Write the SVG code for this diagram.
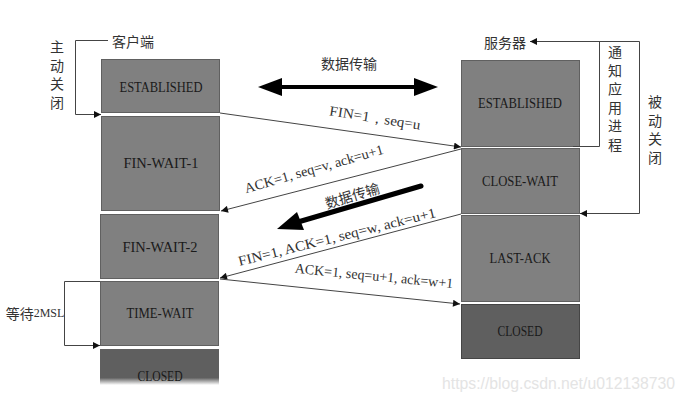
<svg xmlns="http://www.w3.org/2000/svg" width="684" height="402" viewBox="0 0 684 402">
<defs>
<style>
.box{fill:#808080;stroke:#606060;stroke-width:1}
.dark{fill:#5f5f5f;stroke:#454545;stroke-width:1}
.st{font-family:"Liberation Serif",serif;font-size:15px;fill:#1a1a1a;text-anchor:middle;dominant-baseline:central}
.lbl{font-family:"Liberation Serif",serif;font-size:14px;fill:#333;text-anchor:middle;dominant-baseline:central}
.cn{font-family:"Noto Sans CJK SC",sans-serif;font-size:14px;fill:#333;text-anchor:middle;dominant-baseline:central}
.vt{font-family:"Noto Sans CJK SC",sans-serif;font-size:14px;fill:#333;writing-mode:vertical-rl;letter-spacing:4.5px}
.ln{fill:none;stroke:#444;stroke-width:1}
</style>
<marker id="ah" viewBox="0 0 10 10" refX="10" refY="5" markerWidth="9" markerHeight="7" markerUnits="userSpaceOnUse" orient="auto">
<path d="M0,0 L10,5 L0,10 z" fill="#111"/>
</marker>
<linearGradient id="fade" x1="0" y1="0" x2="0" y2="1">
<stop offset="0" stop-color="#5f5f5f"/>
<stop offset="0.8" stop-color="#5f5f5f"/>
<stop offset="1" stop-color="#ffffff"/>
</linearGradient>
</defs>
<rect width="684" height="402" fill="#fff"/>

<g id="client-established"><rect class="box" x="101.5" y="59.5" width="118" height="53"/><text class="st" x="161" y="87" textLength="83" lengthAdjust="spacingAndGlyphs">ESTABLISHED</text></g>
<g id="fin-wait-1"><rect class="box" x="101.5" y="116.5" width="118" height="94"/><text class="st" x="161" y="163" textLength="75" lengthAdjust="spacingAndGlyphs">FIN-WAIT-1</text></g>
<g id="fin-wait-2"><rect class="box" x="100.5" y="214.5" width="118" height="64"/><text class="st" x="160" y="247" textLength="75" lengthAdjust="spacingAndGlyphs">FIN-WAIT-2</text></g>
<g id="time-wait"><rect class="box" x="100.5" y="281.5" width="118" height="64"/><text class="st" x="160" y="313" textLength="67" lengthAdjust="spacingAndGlyphs">TIME-WAIT</text></g>
<g id="client-closed"><rect x="100" y="349" width="119" height="36" fill="url(#fade)"/><text class="st" x="160" y="376" textLength="45" lengthAdjust="spacingAndGlyphs">CLOSED</text></g>

<g id="server-established"><rect class="box" x="461.5" y="60.5" width="118" height="86"/><text class="st" x="520" y="103" textLength="84" lengthAdjust="spacingAndGlyphs">ESTABLISHED</text></g>
<g id="close-wait"><rect class="box" x="461.5" y="148.5" width="118" height="65"/><text class="st" x="520" y="181" textLength="76" lengthAdjust="spacingAndGlyphs">CLOSE-WAIT</text></g>
<g id="last-ack"><rect class="box" x="461.5" y="215.5" width="118" height="86"/><text class="st" x="520" y="258" textLength="61" lengthAdjust="spacingAndGlyphs">LAST-ACK</text></g>
<g id="server-closed"><rect class="dark" x="461.5" y="304.5" width="118" height="54"/><text class="st" x="520" y="331" textLength="45" lengthAdjust="spacingAndGlyphs">CLOSED</text></g>

<g id="labels">
<text class="cn" x="133" y="41">客户端</text>
<text class="vt" x="57" y="40">主动关闭</text>
<text class="cn" x="505" y="42">服务器</text>
<text class="vt" x="615" y="45">通知应用进程</text>
<text class="vt" x="655" y="95">被动关闭</text>
<text class="cn" x="349" y="63">数据传输</text>
<text class="cn" x="35" y="313"><tspan>等待</tspan><tspan font-family="Liberation Serif" font-size="12">2MSL</tspan></text>
<text class="lbl" transform="translate(375,118) rotate(9)" textLength="92" lengthAdjust="spacingAndGlyphs">FIN=1，seq=u</text>
<text class="lbl" transform="translate(314,169) rotate(-16)" textLength="144" lengthAdjust="spacingAndGlyphs">ACK=1, seq=v, ack=u+1</text>
<text class="cn" transform="translate(352,195) rotate(-17)">数据传输</text>
<text class="lbl" transform="translate(337,237) rotate(-14)" textLength="203" lengthAdjust="spacingAndGlyphs">FIN=1, ACK=1, seq=w, ack=u+1</text>
<text class="lbl" transform="translate(374,276) rotate(5.5)" textLength="159" lengthAdjust="spacingAndGlyphs">ACK=1, seq=u+1, ack=w+1</text>
<text x="442" y="389" font-family="Liberation Sans,sans-serif" font-size="16" fill="#e4e4e4" textLength="233" lengthAdjust="spacingAndGlyphs">https://blog.csdn.net/u012138730</text>
</g>

<g id="connectors">
<path class="ln" d="M108,40.5 H75.5 V114.5 H101" marker-end="url(#ah)"/>
<path class="ln" d="M573,146.5 H599.5 V41.5 H530" marker-end="url(#ah)"/>
<path class="ln" d="M599,41.5 H639.5 V213.5 H580" marker-end="url(#ah)"/>
<path class="ln" d="M100,281.5 H64.5 V345.5 H100" marker-end="url(#ah)"/>
<line class="ln" x1="220" y1="113" x2="461" y2="147" marker-end="url(#ah)"/>
<line class="ln" x1="461" y1="149" x2="221" y2="211" marker-end="url(#ah)"/>
<line class="ln" x1="461" y1="214" x2="220" y2="278" marker-end="url(#ah)"/>
<line class="ln" x1="220" y1="279" x2="460" y2="304" marker-end="url(#ah)"/>
<line x1="278" y1="87" x2="418" y2="87" stroke="#000" stroke-width="4"/>
<path d="M258,87 L282,78 L282,96 z" fill="#000"/>
<path d="M438,87 L414,78 L414,96 z" fill="#000"/>
<line x1="421" y1="186" x2="298" y2="222" stroke="#000" stroke-width="5" stroke-linecap="round"/>
<path d="M277,229 L297,212 L304,230 z" fill="#000"/>
</g>
</svg>
